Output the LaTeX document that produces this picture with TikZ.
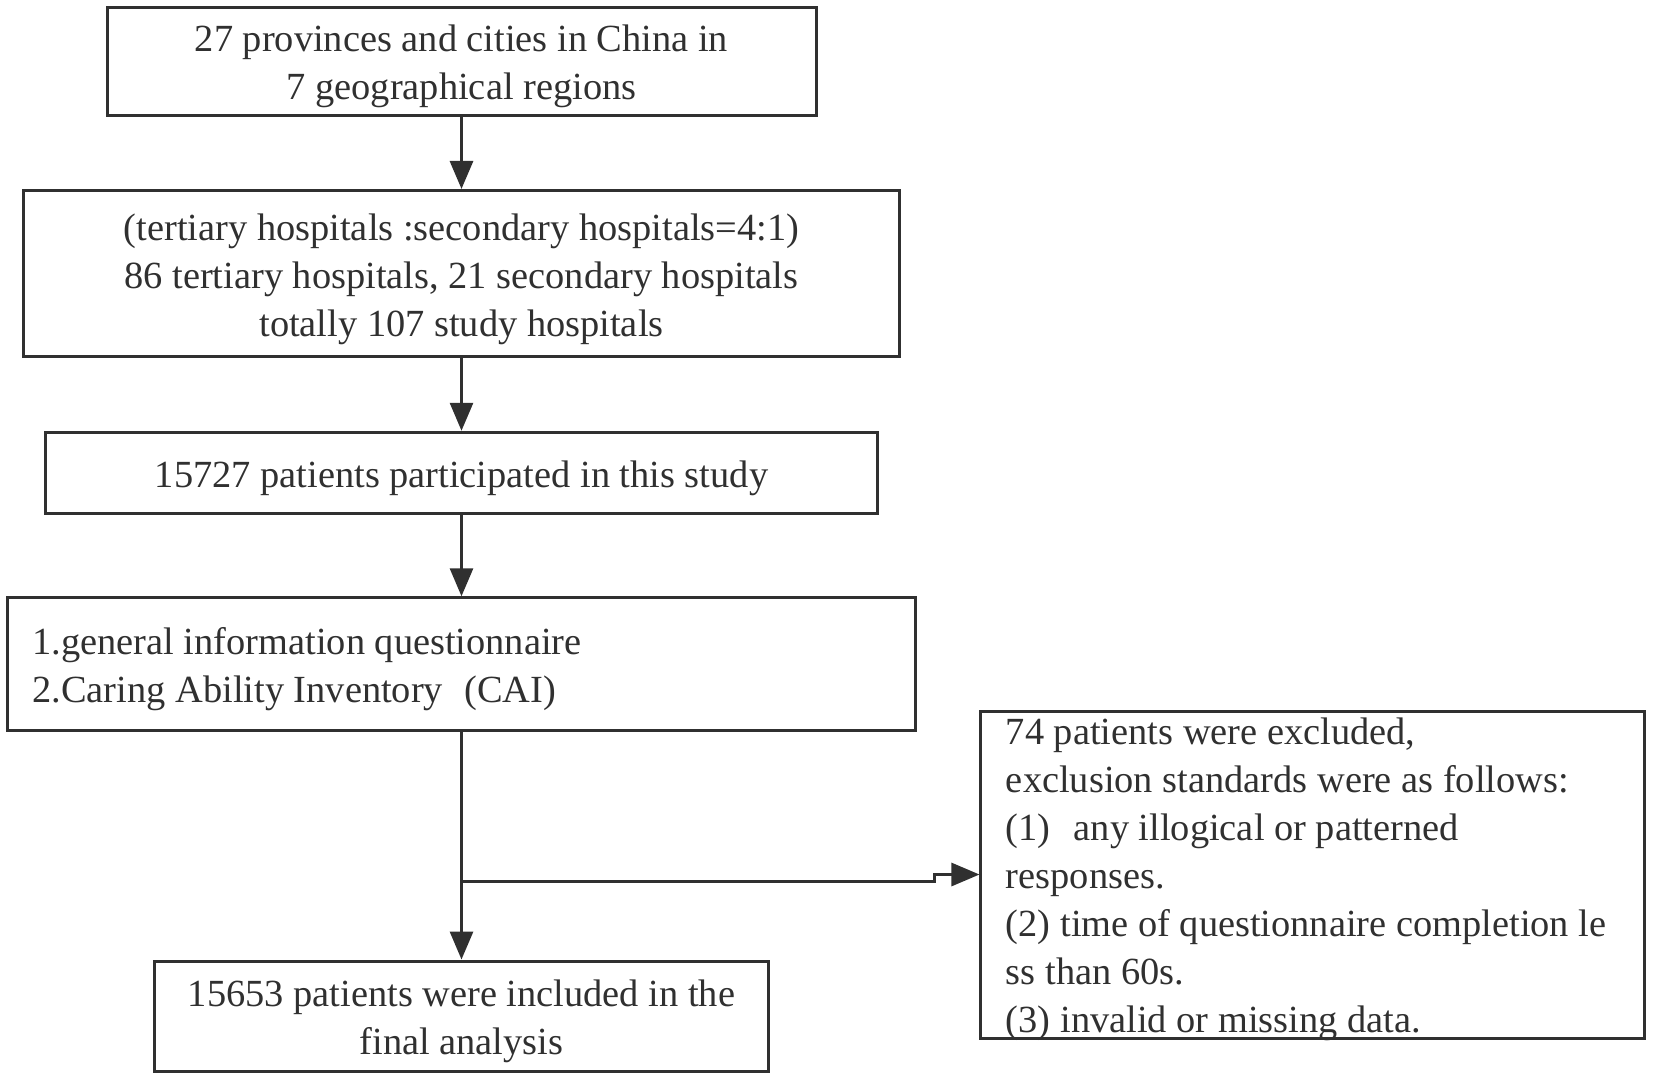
\documentclass[tikz,border=0pt]{standalone}
\usepackage{fontspec}
\setmainfont{Liberation Serif}
\usetikzlibrary{arrows.meta}
\definecolor{ink}{HTML}{303030}
\newcommand{\upstrut}{\rule{0pt}{37.6pt}}
\begin{document}
\begin{tikzpicture}[x=1pt,y=-1pt,
  box/.style={draw=ink, line width=3pt, rectangle, inner sep=0pt, text=ink,
    font=\fontsize{38.4}{48}\selectfont, align=center},
  lbox/.style={box, align=flush left, inner xsep=25pt},
  flow/.style={draw=ink, line width=3pt, -{Triangle[length=28pt,width=23pt]}},
  line/.style={draw=ink, line width=3pt}]
\useasboundingbox (0,0) rectangle (1654,1080);
\node[box, minimum width=709pt, minimum height=108pt] (b1) at (461.5,61)
  {\upstrut 27 provinces and cities in China in\\7 geographical regions};
\node[box, minimum width=876pt, minimum height=166.5pt] (b2) at (461.5,273.7)
  {\upstrut (tertiary hospitals :secondary hospitals=4:1)\\86 tertiary hospitals, 21 secondary hospitals\\totally 107 study hospitals};
\node[box, minimum width=832pt, minimum height=81.5pt] (b3) at (461.5,473)
  {\upstrut 15727 patients participated in this study};
\node[lbox, text width=858pt, minimum height=132.5pt] (b4) at (461.5,664)
  {\upstrut 1.general information questionnaire\\2.Caring Ability Inventory\hspace{0.55em}(CAI)};
\node[lbox, text width=613.5pt, minimum height=327pt] (b5) at (1312.7,874.5)
  {\rule{0pt}{28pt}74 patients were excluded,\\exclusion standards were as follows:\\(1)\hspace{0.6em}any illogical or patterned\\responses.\\(2) time of questionnaire completion le\\ss than 60s.\\\smash{(3) invalid or missing data.}};
\node[box, minimum width=614pt, minimum height=110pt] (b6) at (461.5,1016)
  {\upstrut 15653 patients were included in the\\final analysis};
\draw[flow] (b1) -- (b2);
\draw[flow] (b2) -- (b3);
\draw[flow] (b3) -- (b4);
\draw[flow] (b4) -- (b6);
\coordinate (br) at (461.5,881);
\coordinate (jg) at (934,881);
\draw[flow] (br) -- (jg) |- (b5.west);
\end{tikzpicture}
\end{document}
